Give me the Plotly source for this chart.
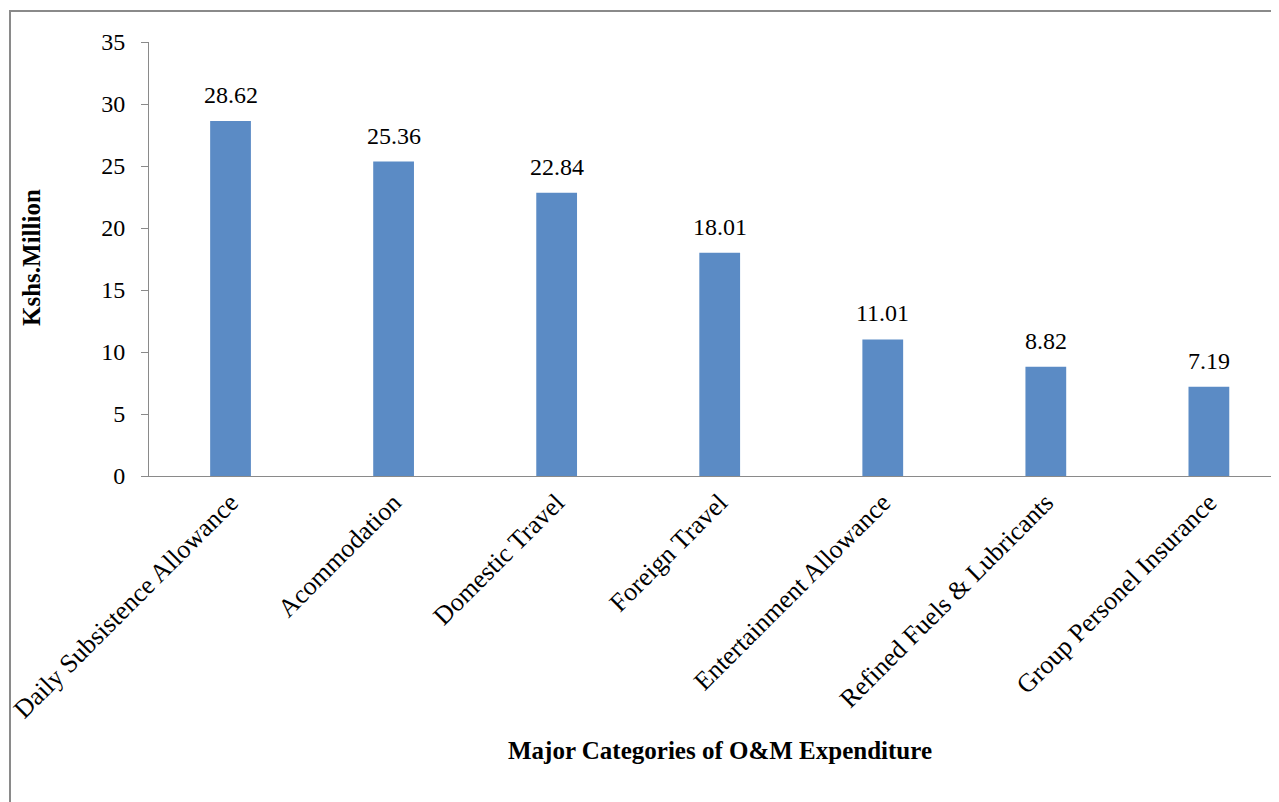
import plotly.graph_objects as go

categories = ["Daily Subsistence Allowance", "Acommodation", "Domestic Travel",
              "Foreign Travel", "Entertainment Allowance", "Refined Fuels & Lubricants",
              "Group Personel Insurance"]
values = [28.62, 25.36, 22.84, 18.01, 11.01, 8.82, 7.19]
y_ticks = [0, 5, 10, 15, 20, 25, 30, 35]

# page body has an 8px margin; compensate so the plot lands where the reference has it
OFF = 8
W, H = 1279 - OFF, 802 - OFF
ML, MT, MB, MR = 149 - OFF, 42 - OFF, 326, 0
pw = W - ML - MR
ph = H - MT - MB

font_family = "Liberation Serif, Times New Roman, serif"

fig = go.Figure()
fig.add_trace(go.Bar(
    x=categories, y=values, width=0.25,
    marker=dict(color="#5B8BC5", line=dict(width=0)),
    showlegend=False, hoverinfo="x+y",
))

for c, v in zip(categories, values):
    fig.add_annotation(x=c, y=v, text=f"{v:.2f}", showarrow=False,
                       yanchor="bottom", yshift=11,
                       font=dict(family=font_family, size=24, color="black"))

# axis titles
fig.add_annotation(xref="paper", yref="paper", x=(720 - 149) / pw, y=(476 - 750) / ph,
                   text="<b>Major Categories of O&amp;M Expenditure</b>", showarrow=False,
                   xanchor="center", yanchor="middle",
                   font=dict(family=font_family, size=25, color="black"))
fig.add_annotation(xref="paper", yref="paper", x=(32 - 149) / pw, y=(476 - 258) / ph,
                   text="<b>Kshs.Million</b>", showarrow=False, textangle=-90,
                   xanchor="center", yanchor="middle",
                   font=dict(family=font_family, size=25, color="black"))

# outer frame
fig.add_shape(type="rect", xref="paper", yref="paper",
              x0=(10 - 149) / pw, x1=1.05, y0=-(MB + 20) / ph, y1=(476 - 11) / ph,
              line=dict(color="#8a8a8a", width=2), fillcolor="rgba(0,0,0,0)", layer="below")

fig.update_layout(
    width=W, height=H,
    margin=dict(l=ML, r=MR, t=MT, b=MB, autoexpand=False),
    paper_bgcolor="white", plot_bgcolor="white",
    font=dict(family=font_family, color="black"),
    xaxis=dict(
        range=[-0.5, 6.43],
        tickangle=-45, tickfont=dict(size=26, family=font_family),
        showline=True, linecolor="#8a8a8a", linewidth=1,
        ticks="", showgrid=False, zeroline=False,
    ),
    yaxis=dict(
        range=[0, 35], tickvals=y_ticks,
        tickfont=dict(size=24, family=font_family),
        showline=True, linecolor="#8a8a8a", linewidth=1,
        ticks="outside", ticklen=7, tickcolor="#8a8a8a",
        ticklabelstandoff=11,
        showgrid=False, zeroline=False,
    ),
)

fig.write_html("out.html")
